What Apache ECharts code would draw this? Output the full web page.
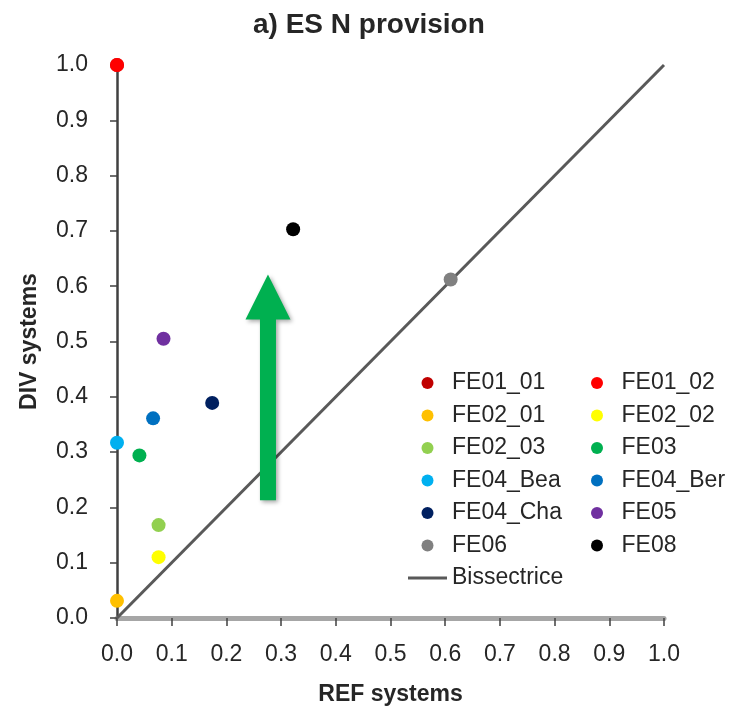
<!DOCTYPE html>
<html>
<head>
<meta charset="utf-8">
<script src="https://cdn.jsdelivr.net/npm/echarts@6/dist/echarts.min.js"></script>
<style>
  html, body { margin: 0; padding: 0; background: #fff; }
  #chart { width: 749px; height: 711px; }
</style>
</head>
<body>
<div id="chart"></div>
<script>
// points: [REF, DIV]
const names = ['FE01_01', 'FE01_02', 'FE02_01', 'FE02_02', 'FE02_03', 'FE03',
  'FE04_Bea', 'FE04_Ber', 'FE04_Cha', 'FE05', 'FE06', 'FE08'];
const colors = ['#c00000', '#ff0000', '#ffc000', '#ffff00', '#92d050', '#00b050',
  '#00b0f0', '#0070c0', '#002060', '#7030a0', '#808080', '#000000'];
const refValues = [0.0, 0.0, 0.0, 0.076, 0.076, 0.041, 0.0, 0.066, 0.174, 0.085, 0.61, 0.322];
const divValues = [1.0, 1.0, 0.031, 0.11, 0.168, 0.294, 0.317, 0.361, 0.389, 0.505, 0.612, 0.703];
const bisector = [[0, 0], [1, 1]];
// green arrow: x, bottom y, tip y (data units)
const arrow = [[0.276, 0.213, 0.621]];

const leftLegend = ['FE01_01', 'FE02_01', 'FE02_03', 'FE04_Bea', 'FE04_Cha', 'FE06', 'Bissectrice'];
const rightLegend = ['FE01_02', 'FE02_02', 'FE03', 'FE04_Ber', 'FE05', 'FE08'];

const chart = echarts.init(document.getElementById('chart'));

const pointSeries = names.map((n, i) => ({
  name: n,
  type: 'scatter',
  symbol: 'circle',
  symbolSize: 14,
  itemStyle: { color: colors[i], opacity: 1 },
  z: 5,
  data: [[refValues[i], divValues[i]]]
}));

const legendBase = {
  orient: 'vertical',
  itemWidth: 39,
  itemHeight: 12,
  itemGap: 8.5,
  textStyle: { fontSize: 23, color: '#262626', lineHeight: 24, fontFamily: 'Liberation Sans' }
};

const option = {
  animation: false,
  title: {
    text: 'a) ES N provision',
    left: 248,
    top: 6,
    textStyle: { fontSize: 28, fontWeight: 'bold', color: '#262626', fontFamily: 'Liberation Sans' }
  },
  grid: { left: 117, right: 85, top: 65, bottom: 92 },
  legend: [
    Object.assign({}, legendBase, {
      left: 403, top: 366,
      // line-only icon for the bisector
      data: leftLegend.map(n => n === 'Bissectrice'
        ? { name: n, icon: 'path://M0,0H39V3H0Z' }
        : n)
    }),
    Object.assign({}, legendBase, { left: 586, top: 366, data: rightLegend })
  ],
  xAxis: {
    type: 'value',
    min: 0, max: 1, interval: 0.1,
    name: 'REF systems',
    nameLocation: 'middle',
    nameGap: 65,
    nameTextStyle: { fontSize: 23, fontWeight: 'bold', color: '#262626', fontFamily: 'Liberation Sans' },
    axisLine: { lineStyle: { color: '#a6a6a6', width: 5 } },
    axisTick: { show: true, length: 8, lineStyle: { color: '#404040', width: 1.5 } },
    axisLabel: {
      margin: 25, fontSize: 23, color: '#262626', fontFamily: 'Liberation Sans',
      formatter: v => v.toFixed(1)
    },
    splitLine: { show: false }
  },
  yAxis: {
    type: 'value',
    min: 0, max: 1, interval: 0.1,
    name: 'DIV systems',
    nameLocation: 'middle',
    nameGap: 76,
    nameTextStyle: { fontSize: 23, fontWeight: 'bold', color: '#262626', fontFamily: 'Liberation Sans' },
    axisLine: { show: true, lineStyle: { color: '#404040', width: 2.5 } },
    axisTick: { show: true, length: 7, lineStyle: { color: '#404040', width: 1.5 } },
    axisLabel: {
      margin: 29, fontSize: 23, color: '#262626', fontFamily: 'Liberation Sans',
      formatter: v => v.toFixed(1)
    },
    splitLine: { show: false }
  },
  series: [
    {
      name: 'Bissectrice',
      type: 'line',
      symbol: 'none',
      lineStyle: { color: '#595959', width: 3 },
      itemStyle: { color: '#595959' },
      z: 3,
      data: bisector
    },
    {
      name: 'arrow',
      type: 'custom',
      z: 4,
      renderItem(params, api) {
        const base = api.coord([api.value(0), api.value(1)]);
        const tip = api.coord([api.value(0), api.value(2)]);
        const cx = base[0];
        const headH = 45, headW = 45, shaftW = 16;
        const headBase = tip[1] + headH;
        return {
          type: 'polygon',
          shape: {
            points: [
              [cx, tip[1]],
              [cx + headW / 2, headBase],
              [cx + shaftW / 2, headBase],
              [cx + shaftW / 2, base[1]],
              [cx - shaftW / 2, base[1]],
              [cx - shaftW / 2, headBase],
              [cx - headW / 2, headBase]
            ]
          },
          style: {
            fill: '#00b050',
            shadowBlur: 4,
            shadowColor: 'rgba(0,0,0,0.35)',
            shadowOffsetX: 2,
            shadowOffsetY: 2
          }
        };
      },
      data: arrow
    }
  ].concat(pointSeries)
};

chart.setOption(option);
</script>
</body>
</html>
